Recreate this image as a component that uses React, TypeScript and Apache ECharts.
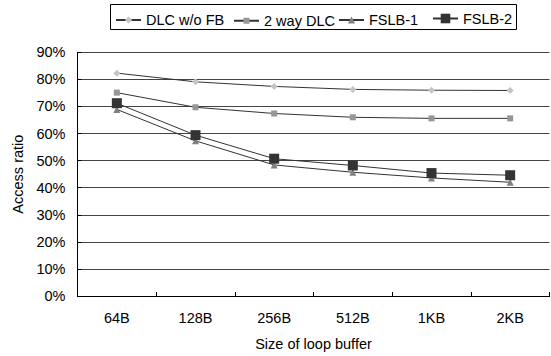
import React, { useEffect, useRef } from "react";
import * as echarts from "echarts";

const categories = ["64B", "128B", "256B", "512B", "1KB", "2KB"];
const seriesNames = ["DLC w/o FB", "2 way DLC", "FSLB-1", "FSLB-2"];
const dlcNoFb = [82.3, 79.1, 77.4, 76.3, 76.0, 75.9];
const twoWayDlc = [75.1, 69.7, 67.4, 66.0, 65.6, 65.6];
const fslb1 = [68.9, 57.3, 48.4, 45.7, 43.6, 42.0];
const fslb2 = [71.2, 59.4, 50.7, 48.2, 45.4, 44.6];
const yMin = 0;
const yMax = 90;
const yStep = 10;

const FONT = "'Liberation Sans', Arial, sans-serif";

export default function App() {
  const ref = useRef<HTMLDivElement>(null);
  useEffect(() => {
    if (!ref.current) return;
    const chart = echarts.init(ref.current, undefined, { renderer: "svg" });

    const seriesData = [dlcNoFb, twoWayDlc, fslb1, fslb2];
    const symbols = ["diamond", "rect", "triangle", "rect"];
    const symbolSizes = [7, 6, 7, 10];
    const markerColors = ["#c4c4c4", "#969696", "#808080", "#333333"];
    const legendLefts = [115, 233, 338, 432];
    const legendHeights = [9, 7.5, 9, 12];
    const legendCenter = 17;

    const series = seriesNames.map((name, i) => ({
      name,
      type: "line",
      data: seriesData[i],
      symbol: symbols[i],
      symbolSize: symbolSizes[i],
      itemStyle: { color: markerColors[i], borderWidth: 0 },
      lineStyle: { color: "#333333", width: 1 },
      z: 2 + i,
    }));

    const legends = seriesNames.map((name, i) => ({
      show: true,
      left: legendLefts[i],
      top: legendCenter - legendHeights[i] / 2,
      padding: 0,
      itemWidth: 25,
      itemHeight: legendHeights[i],
      selectedMode: false,
      data: [name],
      textStyle: { fontFamily: FONT, fontSize: 14.5, color: "#000" },
    }));

    chart.setOption({
      animation: false,
      backgroundColor: "#fff",
      textStyle: { fontFamily: FONT },
      grid: { left: 77.5, right: 1.5, top: 52.3, bottom: 56.5, containLabel: false },
      legend: legends,
      graphic: [
        {
          type: "rect",
          shape: { x: 110.5, y: 4.5, width: 406, height: 25 },
          style: { fill: "none", stroke: "#000", lineWidth: 1 },
          silent: true,
        },
      ],
      xAxis: {
        type: "category",
        data: categories,
        boundaryGap: true,
        name: "Size of loop buffer",
        nameLocation: "middle",
        nameGap: 40,
        nameTextStyle: { fontFamily: FONT, fontSize: 14.5, color: "#000" },
        axisLine: { lineStyle: { color: "#000", width: 1 } },
        axisTick: { show: true, inside: true, length: 4, lineStyle: { color: "#000" } },
        axisLabel: { fontFamily: FONT, fontSize: 14.5, color: "#000", margin: 14 },
        splitLine: { show: false },
      },
      yAxis: {
        type: "value",
        min: yMin,
        max: yMax,
        interval: yStep,
        name: "Access ratio",
        nameLocation: "middle",
        nameGap: 47,
        nameTextStyle: { fontFamily: FONT, fontSize: 14.5, color: "#000" },
        axisLine: { show: true, lineStyle: { color: "#000", width: 1 } },
        axisTick: { show: true, inside: true, length: 4, lineStyle: { color: "#000" } },
        axisLabel: { fontFamily: FONT, fontSize: 14.5, color: "#000", margin: 12, formatter: "{value}%" },
        splitLine: { show: true, lineStyle: { color: "#444", width: 1 } },
      },
      series,
    });
    return () => chart.dispose();
  }, []);
  return (
    <div
      ref={ref}
      style={{ position: "fixed", left: 0, top: 0, width: 551, height: 356, background: "#fff" }}
    />
  );
}
